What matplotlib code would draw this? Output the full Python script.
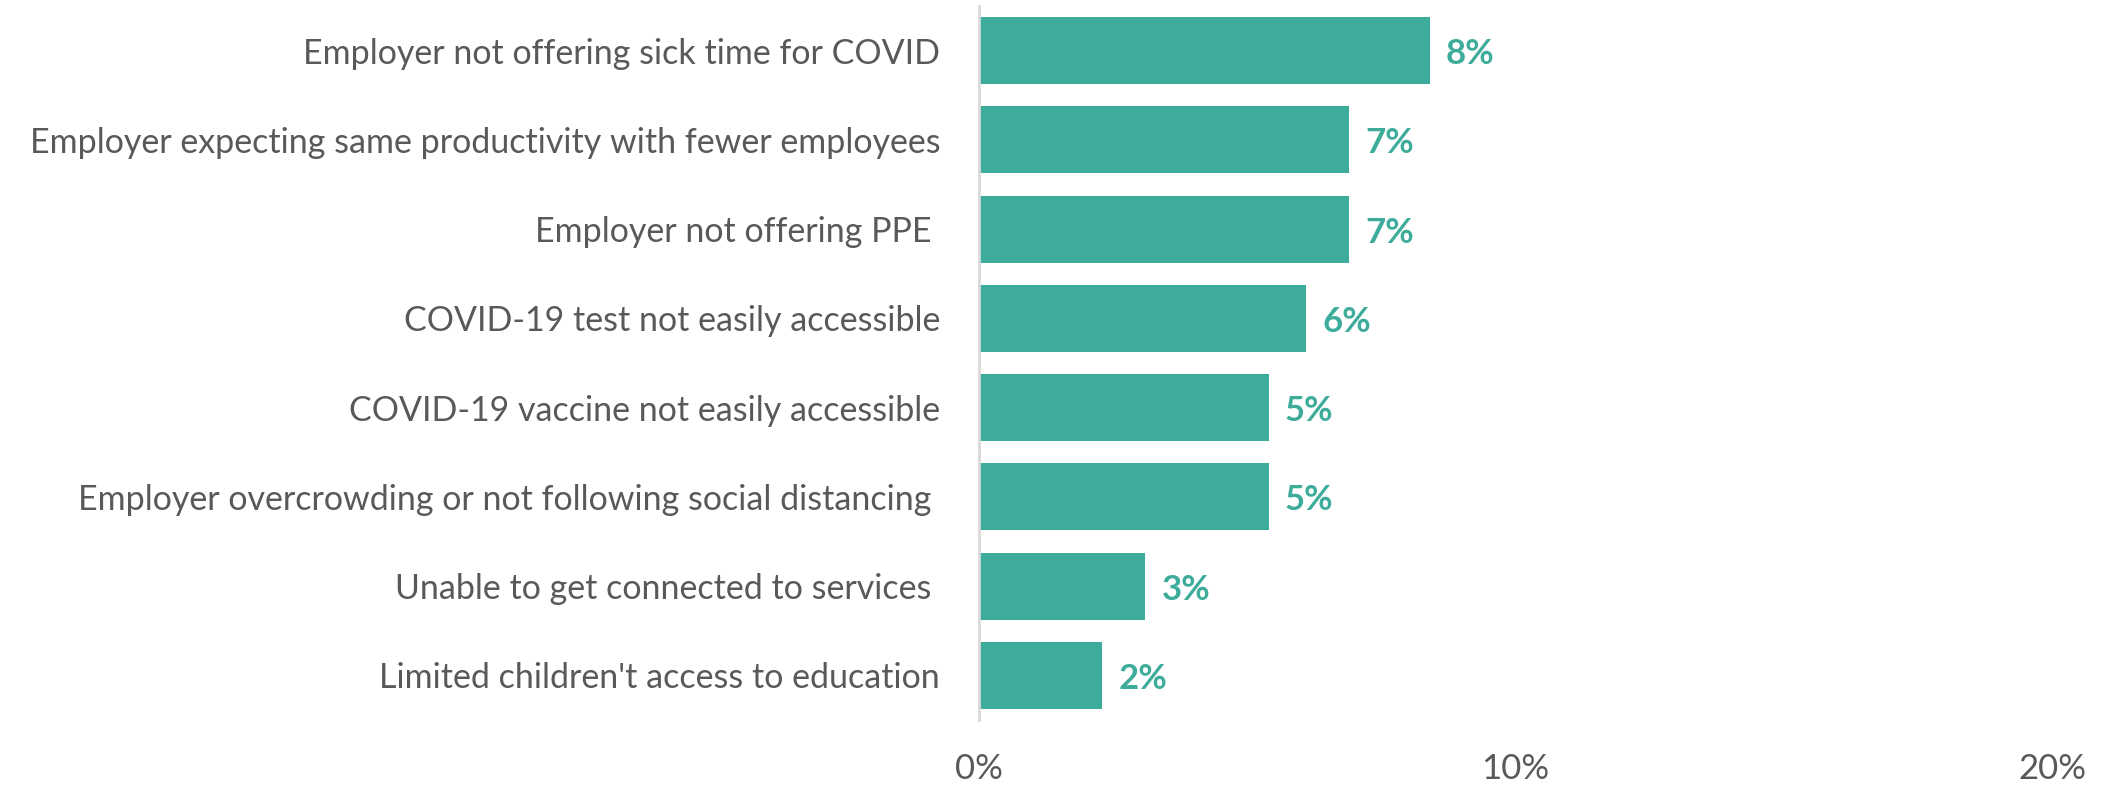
import matplotlib.pyplot as plt
from matplotlib.ticker import FuncFormatter

categories = [
    "Employer not offering sick time for COVID",
    "Employer expecting same productivity with fewer employees",
    "Employer not offering PPE ",
    "COVID-19 test not easily accessible",
    "COVID-19 vaccine not easily accessible",
    "Employer overcrowding or not following social distancing ",
    "Unable to get connected to services ",
    "Limited children't access to education",
]
values = [8.4, 6.9, 6.9, 6.1, 5.4, 5.4, 3.1, 2.3]
value_labels = ["8%", "7%", "7%", "6%", "5%", "5%", "3%", "2%"]
xticks = [0, 10, 20]

teal = "#3EAC9A"
gray = "#595959"

plt.rcParams['font.family'] = ['Lato', 'DejaVu Sans']

fig = plt.figure(figsize=(21.11, 7.86), dpi=100)
ax = fig.add_axes([0.4638, 0.084, 0.5083, 0.9084])

y = list(range(len(categories)))
ax.barh(y, values, height=0.75, color=teal)
for yi, v, lab in zip(y, values, value_labels):
    ax.text(v + 0.3, yi + 0.04, lab, va='center', ha='left', color=teal,
            fontsize=25, fontweight='bold')

ax.set_ylim(len(categories) - 0.5, -0.5)
ax.set_xlim(0, 20)
ax.set_yticks(y)
ax.set_yticklabels(categories, fontsize=24.5, color=gray)
ax.set_xticks(xticks)
ax.xaxis.set_major_formatter(FuncFormatter(lambda v, p: "%d%%" % v))
ax.tick_params(axis='x', length=0, pad=24, labelsize=25, labelcolor=gray)
ax.tick_params(axis='y', length=0, pad=28)

for s in ['top', 'right', 'bottom']:
    ax.spines[s].set_visible(False)
ax.spines['left'].set_color('#D9D9D9')
ax.spines['left'].set_linewidth(2)

fig.savefig('out.png', dpi=100)
